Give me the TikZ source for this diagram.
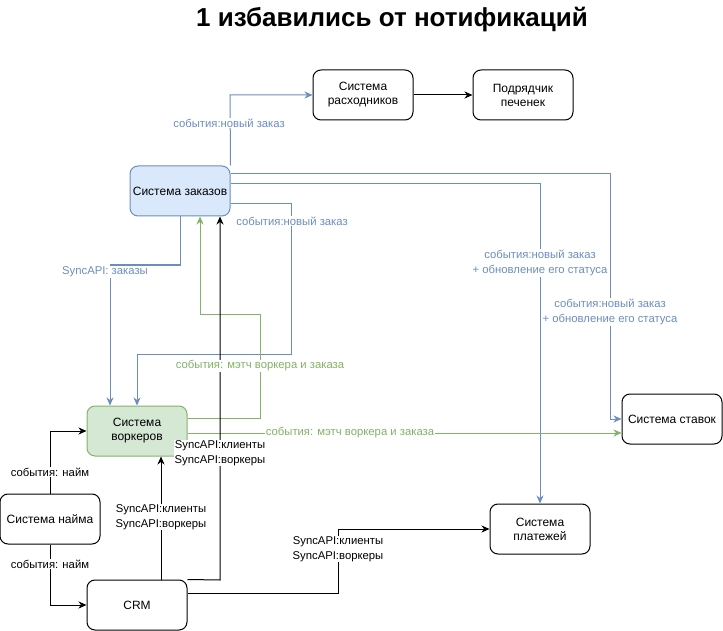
\documentclass[tikz,border=0pt]{standalone}
\usepackage{fontspec}
\setmainfont{Liberation Sans}
\usetikzlibrary{arrows.meta,calc}
\definecolor{bstroke}{HTML}{6C8EBF}
\definecolor{bfill}{HTML}{DAE8FC}
\definecolor{gstroke}{HTML}{82B366}
\definecolor{gfill}{HTML}{D5E8D4}
\tikzset{
  box/.style={draw=black, rounded corners=8pt, minimum width=100pt, minimum height=50pt, align=center, font=\fontsize{12}{14}\selectfont, line width=1pt, inner sep=2pt},
  conn/.style={line width=1pt, -{Stealth[length=8pt,width=7pt,inset=2.5pt]}},
  lbl/.style={fill=white, align=center, inner sep=1pt, font=\fontsize{11.3}{14.5}\selectfont},
  blbl/.style={lbl, text=bstroke},
  glbl/.style={lbl, text=gstroke},
}
\begin{document}
\begin{tikzpicture}[x=1pt,y=-1pt]
\useasboundingbox (0,0) rectangle (723,631);
\node[font=\fontsize{26}{30}\selectfont\bfseries] (title) at (392,20) {1 избавились от нотификаций};
% nodes
\node[box] (ras) at (363,95) {Система\\расходников};
\node[box] (pod) at (523,95) {Подрядчик\\печенек};
\node[box, draw=bstroke, fill=bfill] (zak) at (180,191) {Система заказов};
\node[box, draw=gstroke, fill=gfill] (vork) at (137,431) {Система\\воркеров};
\node[box] (naim) at (50,519) {Система найма};
\node[box] (crm) at (137,605) {CRM};
\node[box] (stav) at (672,419) {Система ставок};
\node[box] (plat) at (540,529) {Система\\платежей};
% blue connectors
\draw[conn, bstroke] (zak.north east) -- (230,95) -- (ras.west);
\draw[conn, bstroke] ([yshift=17pt]zak.east) -- (610,174) |- (stav.west);
\draw[conn, bstroke] ([yshift=7pt]zak.east) -| (plat.north);
\draw[conn, bstroke] ([yshift=-13pt]zak.east) -- (291,204) -- (291,354) -| (vork.north);
\draw[conn, bstroke] (zak.south) -- (180,265) -| ([xshift=-27pt]vork.north);
% green connectors
\draw[conn, gstroke] ([yshift=13pt]vork.east) -- (260,418) -- (260,314) -| ([xshift=20pt]zak.south);
\draw[conn, gstroke] ([yshift=-2pt]vork.east) -- ([yshift=-14pt]stav.west);
% black connectors
\draw[conn] (ras.east) -- (pod.west);
\draw[conn] (crm.north east) -- (220,580) -- ([xshift=40pt]zak.south);
\draw[conn] ([xshift=24pt]crm.north) -- ([xshift=24pt]vork.south);
\draw[conn] (naim.north) |- (vork.west);
\draw[conn] (naim.south) |- (crm.west);
\draw[conn] ([yshift=12pt]crm.east) -- (338,593) |- (plat.west);
% labels
\node[blbl] (l1) at (229,123) {события:новый заказ};
\node[blbl] (l2) at (610,312) {события:новый заказ\\+ обновление его статуса};
\node[blbl] (l3) at (540,263) {события:новый заказ\\+ обновление его статуса};
\node[blbl] (l4) at (292,221) {события:новый заказ};
\node[blbl] (l5) at (105,272) {SyncAPI: заказы};
\node[glbl] (l6) at (260,366) {события: мэтч воркера и заказа};
\node[glbl] (l7) at (350,433) {события: мэтч воркера и заказа};
\node[lbl] (l8) at (220,453) {SyncAPI:клиенты\\SyncAPI:воркеры};
\node[lbl] (l9) at (161,517) {SyncAPI:клиенты\\SyncAPI:воркеры};
\node[lbl] (l10) at (50,472) {события: найм};
\node[lbl] (l11) at (50,564) {события: найм};
\node[lbl] (l12) at (338,549) {SyncAPI:клиенты\\SyncAPI:воркеры};
\end{tikzpicture}
\end{document}
